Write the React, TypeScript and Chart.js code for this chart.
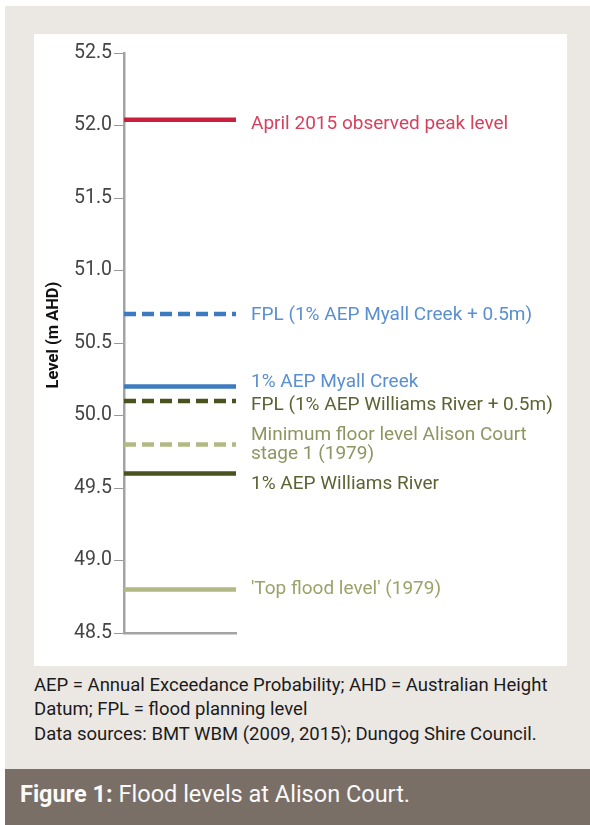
import React, { useEffect, useRef } from "react";
import { Chart, registerables } from "chart.js";

Chart.register(...registerables);

// ---- data ----
const levelLabels = [
  "April 2015 observed peak level",
  "FPL (1% AEP Myall Creek + 0.5m)",
  "1% AEP Myall Creek",
  "FPL (1% AEP Williams River + 0.5m)",
  "Minimum floor level Alison Court\nstage 1 (1979)",
  "1% AEP Williams River",
  "'Top flood level' (1979)",
];
const levelValues = [52.04, 50.7, 50.2, 50.1, 49.8, 49.6, 48.8];
const yMin = 48.5;
const yMax = 52.5;
const yStep = 0.5;
const yTitle = "Level (m AHD)";

// ---- styles ----
const lineColors = ["#c81f3e", "#3e7ac0", "#3e7ac0", "#4a5220", "#b3b985", "#4a5220", "#b3b985"];
const textColors = ["#d6415d", "#5a8fd1", "#5a8fd1", "#5c6233", "#8f9560", "#5c6233", "#9ca26a"];
const dashed = [false, true, false, true, true, false, false];
const labelNudges = [[4.5], [1.5], [-4], [4.5], [-9.5, 9.5], [10.5], [-0.5]];

const FONT = "Roboto";

const labelPlugin = {
  id: "levelLabels",
  afterDatasetsDraw(chart: any) {
    const { ctx, chartArea, scales } = chart;
    ctx.save();
    ctx.font = `19px ${FONT}`;
    ctx.textBaseline = "middle";
    ctx.textAlign = "left";
    levelValues.forEach((v, i) => {
      const y = scales.y.getPixelForValue(v);
      const lines = levelLabels[i].split("\n");
      ctx.fillStyle = textColors[i];
      lines.forEach((t, j) => ctx.fillText(t, chartArea.right + 15, y + (labelNudges[i][j] || 0)));
    });
    ctx.translate(20, 301);
    ctx.rotate(-Math.PI / 2);
    ctx.font = `bold 16.5px ${FONT}`;
    ctx.fillStyle = "#111";
    ctx.textAlign = "center";
    ctx.fillText(yTitle, 0, 0);
    ctx.restore();
  },
};

export default function App() {
  const ref = useRef<HTMLCanvasElement>(null);
  useEffect(() => {
    if (!ref.current) return;
    const chart = new Chart(ref.current, {
      type: "line",
      data: {
        datasets: levelValues.map((v, i) => ({
          label: levelLabels[i],
          data: [
            { x: 0, y: v },
            { x: 1, y: v },
          ],
          borderColor: lineColors[i],
          backgroundColor: lineColors[i],
          borderWidth: 4.5,
          borderDash: dashed[i] ? [12, 6] : [],
          borderCapStyle: "butt",
          pointRadius: 0,
          fill: false,
        })),
      },
      options: {
        animation: false,
        responsive: false,
        layout: { padding: { top: 19, bottom: 33, left: 0, right: 331 } },
        plugins: { legend: { display: false }, tooltip: { enabled: false } },
        scales: {
          x: {
            type: "linear",
            min: 0,
            max: 1,
            ticks: { display: false },
            grid: { display: false },
            border: { display: true, color: "#a3a3a3", width: 2.5 },
            afterFit: (s: any) => {
              s.height = 0;
            },
          },
          y: {
            min: yMin,
            max: yMax,
            ticks: {
              stepSize: yStep,
              callback: (v: any) => Number(v).toFixed(1),
              font: { family: FONT, size: 19.5 },
              color: "#444",
              padding: 2,
            },
            grid: { drawOnChartArea: false, drawTicks: true, tickLength: 10, color: "#9a9a9a", lineWidth: 1 },
            border: { display: true, color: "#a3a3a3", width: 2.5 },
            afterFit: (s: any) => {
              s.width = 90;
            },
          },
        },
      } as any,
      plugins: [labelPlugin],
    });
    return () => chart.destroy();
  }, []);

  return (
    <div style={{ position: "absolute", left: 0, top: 0, width: 590, height: 825, background: "#fff", fontFamily: FONT, overflow: "hidden" }}>
      <div style={{ position: "absolute", left: 5, top: 6, width: 585, height: 764, background: "#ebe7e3" }} />
      <div style={{ position: "absolute", left: 34, top: 34, width: 533, height: 632, background: "#fff" }}>
        <canvas ref={ref} width={533} height={632} style={{ display: "block" }} />
      </div>
      <div style={{ position: "absolute", left: 34, top: 672.5, fontSize: 18.5, lineHeight: "24.5px", color: "#1b1b1b", whiteSpace: "nowrap" }}>
        AEP = Annual Exceedance Probability; AHD = Australian Height
        <br />
        Datum; FPL = flood planning level
        <br />
        Data sources: BMT WBM (2009, 2015); Dungog Shire Council.
      </div>
      <div style={{ position: "absolute", left: 5, top: 769, width: 585, height: 56, background: "#7a6f67" }}>
        <div style={{ position: "absolute", left: 15, top: 11, fontSize: 23.5, color: "#fafafa", whiteSpace: "nowrap" }}>
          <b>Figure 1:</b> Flood levels at Alison Court.
        </div>
      </div>
    </div>
  );
}
